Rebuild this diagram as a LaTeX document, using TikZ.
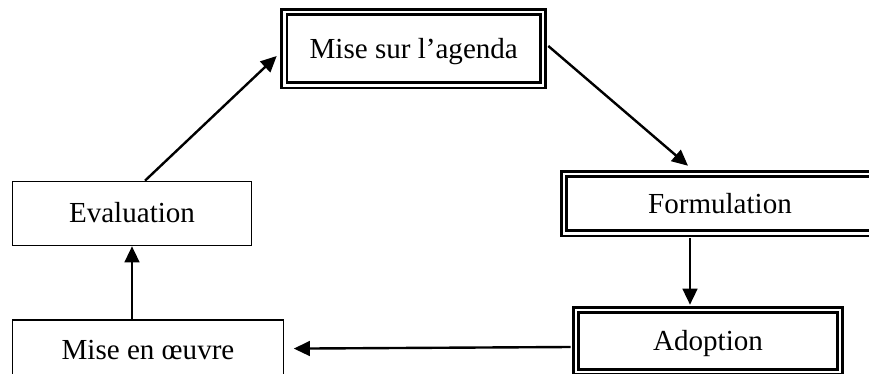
\documentclass[tikz,border=0pt]{standalone}
\usepackage{fontspec}
\setmainfont{Liberation Serif}
\usetikzlibrary{positioning,arrows.meta}

\tikzset{
  box/.style={draw, line width=1.2pt, inner sep=0pt,
    font=\fontsize{21.8}{26}\selectfont, text height=16.35pt, text depth=2.2pt},
  dbox/.style={box, double, line width=1.9pt, double distance=2.2pt},
  flow/.style={-{Triangle[length=12pt,width=11pt]}, line width=1.8pt}
}

\begin{document}
\begin{tikzpicture}[x=0.75pt, y=-0.75pt]
  \useasboundingbox (0,0) rectangle (869,374);
  \clip (0,0) rectangle (869,374);
  % Define nodes
  \node[dbox, minimum width=193.9pt, minimum height=55.1pt] (agenda) at (413.75,48.75) {Mise sur l’agenda};
  \node[dbox, minimum width=234pt, minimum height=44.6pt] (formulation) at (720,203.75) {Formulation};
  \node[dbox, minimum width=198pt, minimum height=46.5pt] (adoption) at (708,341) {Adoption};
  \node[box, minimum width=179.25pt, minimum height=48pt] (evaluation) at (132,213.5) {Evaluation};
  \node[box, minimum width=203.25pt, minimum height=45pt,
    below=54.75pt of evaluation.south west, anchor=north west] (oeuvre) {Mise en œuvre};

  % Connect the nodes
  \draw[flow] ([shift={(13,0)}]evaluation.north) -- ([shift={(-6.5,7.25)}]agenda.west);
  \draw[flow] ([shift={(4,-2.75)}]agenda.east) -- ([shift={(-32,-7)}]formulation.north);
  \draw[flow] ([shift={(-30,3.5)}]formulation.south) -- ([shift={(-18,-4)}]adoption.north);
  \draw[flow] ([shift={(-4,6)}]adoption.west) -- ([shift={(9.5,-1.5)}]oeuvre.east);
  \draw[flow] (evaluation.south |- oeuvre.north) -- (evaluation.south);
\end{tikzpicture}
\end{document}
